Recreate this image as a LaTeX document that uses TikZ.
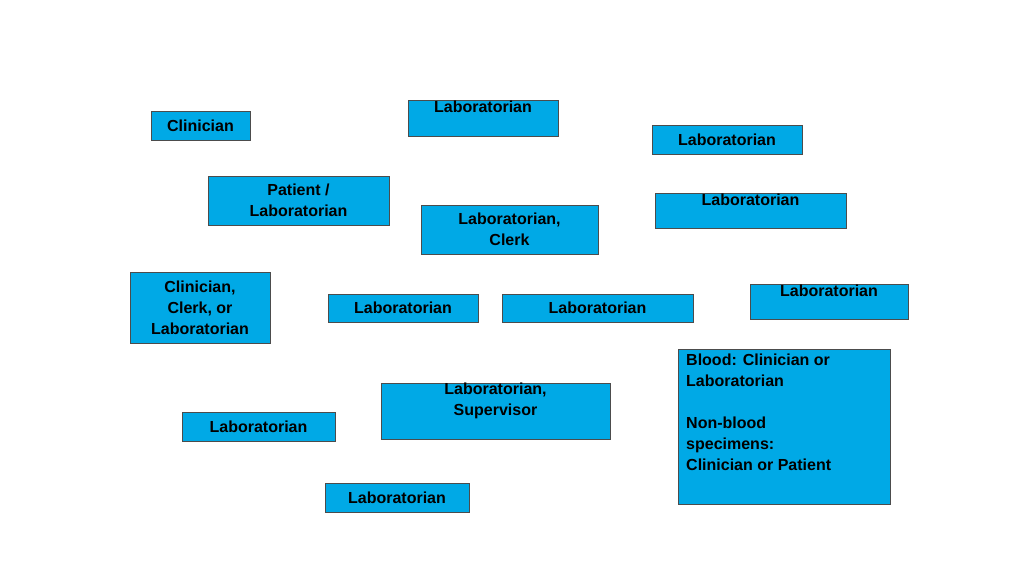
\documentclass[tikz,border=0pt]{standalone}
\usepackage{fontspec}
\setmainfont{Liberation Sans}
\definecolor{boxblue}{RGB}{0,169,230}
\begin{document}
\begin{tikzpicture}[x=1pt,y=-1pt,
  bx/.style={draw=black!70,line width=0.6pt,fill=boxblue,inner sep=0pt,align=center,
    font=\bfseries\fontsize{16}{21}\selectfont}]
\useasboundingbox (0,0) rectangle (1024,576);
\newcommand\bxx[6]{\node[bx,minimum width=#4-#2,minimum height=#5-#3] (#1) at ({(#2+#4)/2},{(#3+#5)/2}) {#6};}
\bxx{a}{151}{111}{250}{140}{Clinician}
\bxx{b}{408}{104}{558}{133}{Laboratorian\\[3pt]}
\bxx{c}{652}{125}{802}{154}{Laboratorian}
\bxx{d}{208}{176}{389}{225}{Patient /\\Laboratorian}
\bxx{e}{421}{205}{598}{254}{Laboratorian,\\Clerk}
\bxx{f}{655}{197}{846}{225}{Laboratorian\\[2pt]}
\bxx{g}{130}{272}{270}{343}{Clinician,\\Clerk, or\\Laboratorian}
\bxx{h}{328}{294}{478}{322}{Laboratorian}
\bxx{i}{502}{294}{693}{322}{Laboratorian}
\bxx{j}{750}{288}{908}{316}{Laboratorian\\[2pt]}
\bxx{k}{381}{386}{610}{436}{Laboratorian,\\Supervisor\\[2pt]}
\bxx{l}{182}{412}{335}{441}{Laboratorian}
\bxx{m}{325}{483}{469}{512}{Laboratorian}
\node[bx,minimum width=212,minimum height=155] (n) at (784,426.5) {};
\node[font=\bfseries\fontsize{16}{21}\selectfont,align=left,anchor=north west,inner sep=0pt] (nt) at (686,354)
 {Blood: Clinician or\\Laboratorian\\[21pt]Non-blood\\specimens:\\Clinician or Patient};
\end{tikzpicture}
\end{document}
